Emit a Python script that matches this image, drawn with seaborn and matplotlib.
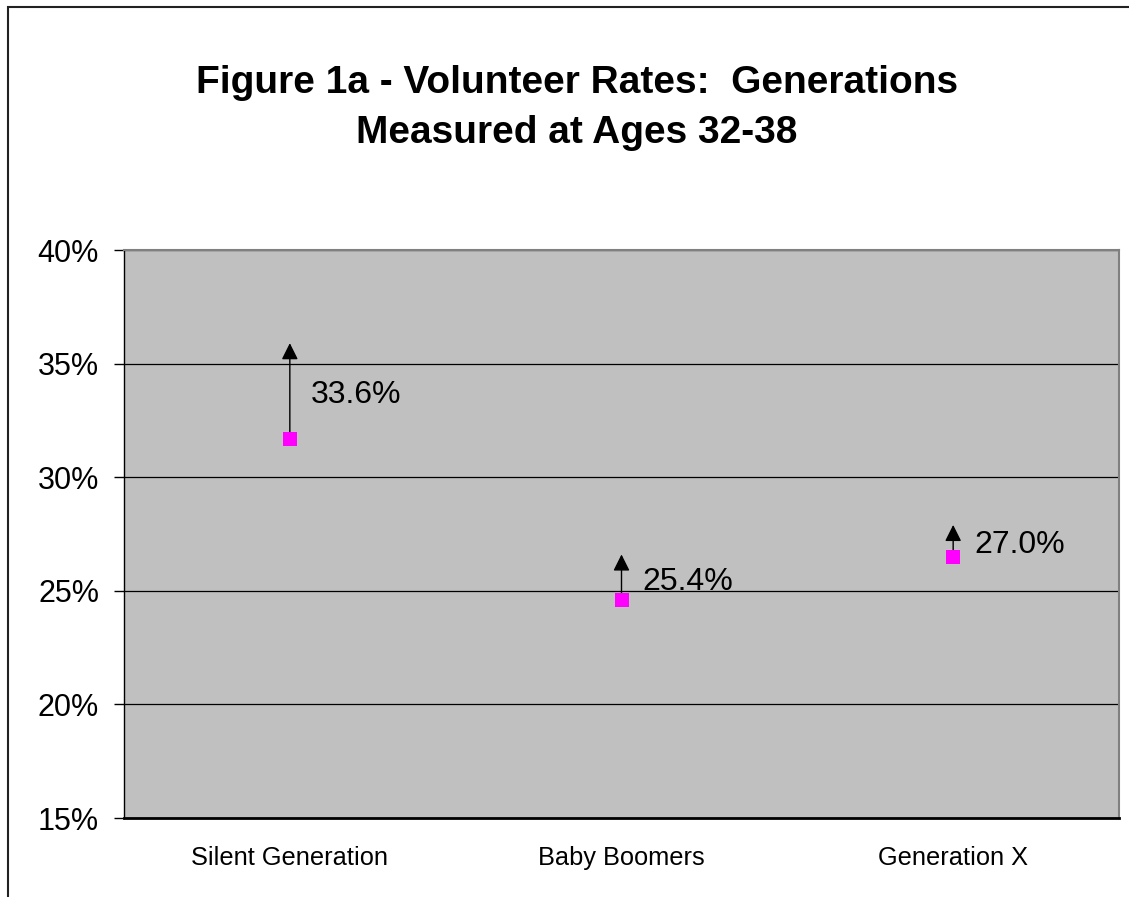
import matplotlib
matplotlib.use("Agg")
import matplotlib.pyplot as plt
import matplotlib.patches as mpatches
from matplotlib.ticker import FixedLocator, FuncFormatter
import seaborn as sns
import pandas as pd

# ---- data ----
categories = ["Silent Generation", "Baby Boomers", "Generation X"]
marker_values = [31.7, 24.6, 26.5]      # magenta square positions (%)
arrow_tops = [35.9, 26.6, 27.9]         # arrow tip positions (%)
label_values = [33.6, 25.4, 27.0]       # data label values (%)
label_texts = ["33.6%", "25.4%", "27.0%"]
y_ticks = [15, 20, 25, 30, 35, 40]

sns.set_theme(style="white")
plt.rcParams["font.family"] = ["Liberation Sans", "DejaVu Sans"]
plt.rcParams["text.color"] = "black"
plt.rcParams["xtick.color"] = "black"
plt.rcParams["ytick.color"] = "black"
plt.rcParams["axes.labelcolor"] = "black"

W, H = 1129, 897
fig = plt.figure(figsize=(W / 100, H / 100), dpi=100)
fig.patch.set_facecolor("white")

# figure border (Excel chart area frame)
fig.patches.append(mpatches.Rectangle((8 / W, -0.1), 1.2, 1 - 7 / H + 0.1,
                                      transform=fig.transFigure, fill=False,
                                      edgecolor="#222222", lw=1.5, zorder=0))

ax = fig.add_axes([124 / W, 1 - 818 / H, (1119 - 124) / W, (818 - 250) / H])
ax.set_facecolor("#C0C0C0")

df = pd.DataFrame({"cat": categories, "x": range(len(categories)), "val": marker_values})

# arrows
for i, (v, t) in enumerate(zip(marker_values, arrow_tops)):
    ax.annotate("", xy=(i, t), xytext=(i, v),
                arrowprops=dict(arrowstyle="-|>,head_length=0.4,head_width=0.2",
                                color="black", lw=1.0, mutation_scale=25,
                                shrinkA=0, shrinkB=0), zorder=3)

sns.scatterplot(data=df, x="x", y="val", marker="s", color="#FF00FF",
                s=95, edgecolor="#FF00FF", linewidth=0, ax=ax, zorder=4)

for i, (lv, lt) in enumerate(zip(label_values, label_texts)):
    ax.annotate(lt, xy=(i, lv), xytext=(15, 0), textcoords="offset points",
                va="center", ha="left", fontsize=23, color="black")

ax.set_xlim(-0.5, len(categories) - 0.5)
ax.set_ylim(15, 40)

# gridlines
ax.yaxis.set_major_locator(FixedLocator(y_ticks))
ax.yaxis.set_major_formatter(FuncFormatter(lambda v, p: f"{v:.0f}%"))
ax.grid(axis="y", color="black", lw=0.9)
ax.grid(axis="x", visible=False)
ax.set_axisbelow(True)

ax.set_xticks(range(len(categories)))
ax.set_xticklabels(categories, fontsize=18.3, color="black")
ax.set_xticks([-0.5, 0.5, 1.5, 2.5], minor=True)
ax.tick_params(axis="x", which="major", length=0, pad=20, labelcolor="black")
ax.tick_params(axis="x", which="minor", direction="inout", length=11, width=1, color="black")
ax.tick_params(axis="y", which="major", direction="out", length=7, width=1,
               color="black", labelcolor="black", labelsize=22, pad=11, left=True)
ax.set_xlabel("")
ax.set_ylabel("")

for s in ["top", "right"]:
    ax.spines[s].set_color("#808080")
    ax.spines[s].set_linewidth(1.5)
ax.spines["left"].set_color("black")
ax.spines["left"].set_linewidth(1.0)
ax.spines["bottom"].set_color("black")
ax.spines["bottom"].set_linewidth(2.0)

fig.text(0.511, 1 - 83 / H, "Figure 1a - Volunteer Rates:  Generations",
         ha="center", va="center", fontsize=28, fontweight="bold", color="black")
fig.text(0.511, 1 - 133 / H, "Measured at Ages 32-38",
         ha="center", va="center", fontsize=28, fontweight="bold", color="black")

fig.savefig("out.png", dpi=100, facecolor="white")
